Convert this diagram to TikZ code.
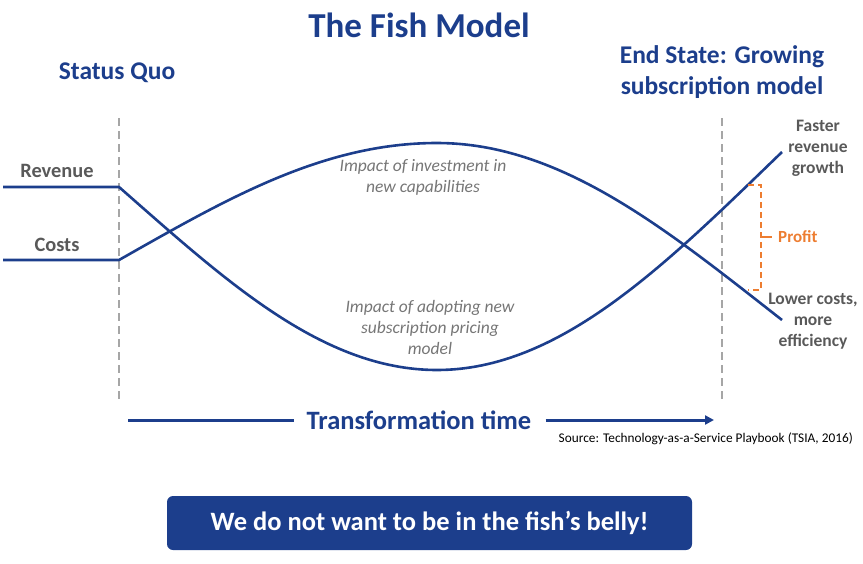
\documentclass[tikz,border=0pt]{standalone}
\usepackage{fontspec}
\setmainfont{Carlito}
\usetikzlibrary{arrows.meta}
\definecolor{fishblue}{HTML}{1C3E8C}
\definecolor{txtgray}{HTML}{595959}
\definecolor{itgray}{HTML}{767676}
\definecolor{dashgray}{HTML}{A6A6A6}
\definecolor{profitorange}{HTML}{ED7D31}
\begin{document}
\begin{tikzpicture}[x=1pt,y=-1pt,
  curve/.style={draw=fishblue,line width=2.6pt},
  sep/.style={draw=dashgray,line width=1.6pt,dash pattern=on 8pt off 5pt},
  hdr/.style={font=\bfseries\fontsize{25.5}{31}\selectfont,text=fishblue,align=center,inner sep=0pt},
  lbl/.style={font=\bfseries\fontsize{20.4}{24}\selectfont,text=txtgray,inner sep=0pt},
  side/.style={font=\bfseries\fontsize{17.5}{21}\selectfont,text=txtgray,align=center,inner sep=0pt},
  note/.style={font=\itshape\fontsize{17.5}{21}\selectfont,text=itgray,align=center,inner sep=0pt},
  prof/.style={draw=profitorange,line width=1.6pt,dash pattern=on 6pt off 4pt}]
\useasboundingbox (0,0) rectangle (863,563);
% title and headers
\node[hdr,font=\bfseries\fontsize{35}{40}\selectfont] (title) at (419,25) {The Fish Model};
\node[hdr] (sq) at (117,73) {Status Quo};
\node[hdr] (es) at (722,72) {End State: Growing\\subscription model};
% separators
\coordinate (s1t) at (119,118); \coordinate (s1b) at (119,400);
\coordinate (s2t) at (722,118); \coordinate (s2b) at (722,400);
\draw[sep] (s1t) -- (s1b);
\draw[sep] (s2t) -- (s2b);
% curve points
\coordinate (r0) at (3,187); \coordinate (r1) at (119,187);
\coordinate (rm) at (437,370); \coordinate (r2) at (782,152);
\coordinate (c0) at (3,260); \coordinate (c1) at (119,260);
\coordinate (cm) at (437,143); \coordinate (c2) at (782,320);
\draw[curve,line join=round] (r0) -- (r1) .. controls (225,280) and (322,370) .. (rm)
  .. controls (561,370) and (667,263) .. (r2);
\draw[curve,line join=round] (c0) -- (c1) .. controls (225,200) and (322,143) .. (cm)
  .. controls (561,143) and (667,230) .. (c2);
% labels
\node[lbl] (rev) at (57,171) {Revenue};
\node[lbl] (cos) at (57,245) {Costs};
\node[note] (inv) at (423,177) {Impact of investment in\\new capabilities};
\node[note] (adp) at (430,327) {Impact of adopting new\\subscription pricing\\model};
\node[side] (fast) at (818,148) {Faster\\revenue\\growth};
\node[side] (low) at (813,321) {Lower costs,\\more\\efficiency};
% profit bracket
\coordinate (pt1) at (748,185); \coordinate (pt2) at (761,185);
\coordinate (pb1) at (748,290); \coordinate (pb2) at (761,290);
\coordinate (pm1) at (761,237); \coordinate (pm2) at (772,237);
\draw[prof] (pt1) -- (pt2) -- (pb2) -- (pb1);
\draw[prof,dash pattern=] (pm1) -- (pm2);
\node[font=\bfseries\fontsize{17}{20}\selectfont,text=profitorange,inner sep=0pt,anchor=west] (profit) at (778,237) {Profit};
% transformation time
\node[hdr,font=\bfseries\fontsize{26.5}{31}\selectfont] (tt) at (419,420) {Transformation time};
\coordinate (a0) at (128,420); \coordinate (a1) at (714,420);
\draw[fishblue,line width=3pt] (a0) -- ([xshift=-12pt]tt.west);
\draw[fishblue,line width=3pt,-{Triangle[length=9pt,width=9pt]}] ([xshift=14pt]tt.east) -- (a1);
\node[font=\fontsize{13.3}{15}\selectfont,text=black,inner sep=0pt,anchor=east] (src) at (853,439) {Source: Technology-as-a-Service Playbook (TSIA, 2016)};
% bottom box
\node[fill=fishblue,rounded corners=6pt,minimum width=525pt,minimum height=54pt,text=white,font=\bfseries\fontsize{26.5}{30}\selectfont] (box) at (429.5,523) {We do not want to be in the fish’s belly!};
\end{tikzpicture}
\end{document}
